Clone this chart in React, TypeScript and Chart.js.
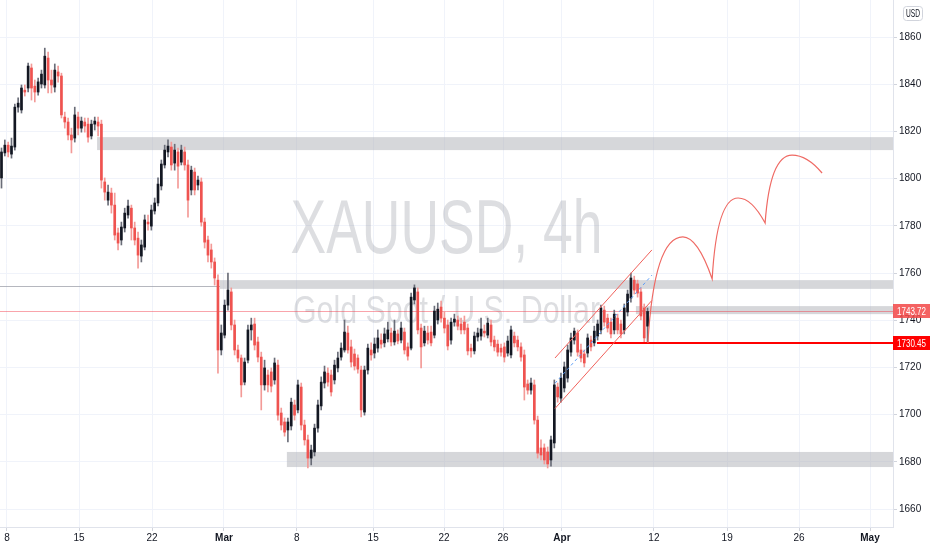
import React, { useEffect, useRef } from 'react';
import { Chart, registerables } from 'chart.js';

Chart.register(...registerables);

// ---- candle data (4h XAUUSD) ----
const opens = [
  1800.3, 1810.9, 1814.2, 1810.4, 1813.4, 1830.3, 1829.1, 1837.5, 1838.4, 1846.9,
  1839.2, 1836.7, 1840.1, 1839.7, 1851.1, 1841.8, 1838.8, 1845.2, 1843.5, 1826.1,
  1824.0, 1818.5, 1817.2, 1826.1, 1821.4, 1824.0, 1823.1, 1818.1, 1823.1, 1824.0,
  1823.1, 1798.6, 1790.9, 1793.9, 1788.8, 1777.0, 1774.0, 1779.1, 1784.6, 1787.5,
  1779.1, 1774.8, 1767.2, 1771.0, 1781.6, 1779.9, 1786.3, 1789.7, 1796.9, 1805.8,
  1811.3, 1813.4, 1806.6, 1811.3, 1807.0, 1811.3, 1805.8, 1795.2, 1802.8, 1797.3,
  1798.6, 1781.6, 1774.0, 1769.8, 1764.7, 1757.0, 1727.4, 1733.7, 1746.4, 1752.0,
  1738.0, 1727.4, 1724.0, 1713.8, 1723.1, 1735.9, 1738.4, 1730.8, 1724.4, 1712.6,
  1716.8, 1718.1, 1714.7, 1721.0, 1700.7, 1696.9, 1693.5, 1695.2, 1704.1, 1702.0,
  1711.7, 1695.6, 1689.3, 1681.6, 1684.2, 1694.3, 1703.7, 1713.4, 1717.6, 1716.8,
  1714.7, 1719.8, 1724.4, 1727.4, 1734.6, 1728.7, 1725.7, 1724.0, 1718.9, 1701.1,
  1718.9, 1727.4, 1726.1, 1728.2, 1731.6, 1730.4, 1732.1, 1734.6, 1730.8, 1734.2,
  1731.6, 1735.0, 1728.7, 1728.2, 1748.6, 1752.0, 1736.7, 1730.4, 1734.6, 1735.0,
  1733.7, 1740.1, 1745.6, 1740.9, 1738.0, 1731.6, 1739.2, 1740.1, 1738.4, 1739.2,
  1736.7, 1728.2, 1727.0, 1732.9, 1733.3, 1735.4, 1733.7, 1738.0, 1731.6, 1729.9,
  1728.2, 1728.7, 1726.1, 1725.3, 1733.3, 1731.6, 1728.7, 1725.3, 1713.0, 1710.4,
  1712.6, 1697.7, 1685.9, 1685.9, 1684.2, 1680.8, 1688.0, 1711.7, 1707.0, 1711.3,
  1715.5, 1726.5, 1731.6, 1734.6, 1727.4, 1725.7, 1726.1, 1731.6, 1730.4, 1733.3,
  1735.9, 1744.3, 1740.9, 1739.2, 1735.9, 1740.9, 1738.4, 1735.9, 1743.5, 1749.4,
  1757.0, 1755.4, 1752.0, 1745.2, 1737.5,
];
const highs = [
  1813.0, 1816.4, 1815.5, 1817.2, 1831.6, 1834.2, 1839.7, 1839.7, 1849.0, 1848.6,
  1841.8, 1842.6, 1846.0, 1855.3, 1853.6, 1846.0, 1848.6, 1847.7, 1844.7, 1828.2,
  1825.7, 1821.4, 1830.3, 1828.2, 1826.1, 1825.7, 1825.7, 1824.8, 1826.1, 1826.1,
  1824.8, 1800.3, 1797.3, 1796.0, 1793.9, 1779.1, 1781.6, 1787.5, 1790.9, 1788.8,
  1781.6, 1777.4, 1774.0, 1784.6, 1784.6, 1788.8, 1791.8, 1800.3, 1807.9, 1814.2,
  1816.4, 1815.5, 1814.6, 1813.0, 1814.2, 1813.4, 1807.9, 1805.3, 1804.5, 1801.1,
  1800.3, 1783.3, 1775.7, 1772.3, 1766.4, 1759.2, 1738.0, 1748.6, 1760.0, 1753.7,
  1740.1, 1729.5, 1725.3, 1724.0, 1738.0, 1740.9, 1740.9, 1732.9, 1726.5, 1723.1,
  1718.9, 1719.8, 1724.0, 1723.1, 1702.8, 1698.6, 1698.6, 1707.0, 1706.2, 1714.7,
  1713.4, 1697.7, 1691.4, 1687.1, 1696.0, 1706.2, 1716.0, 1720.6, 1719.8, 1718.9,
  1723.1, 1726.5, 1730.4, 1740.1, 1737.5, 1731.6, 1727.8, 1725.3, 1720.6, 1720.6,
  1729.9, 1730.4, 1732.5, 1735.9, 1734.2, 1736.7, 1739.2, 1736.7, 1740.1, 1735.9,
  1739.2, 1736.7, 1730.4, 1751.5, 1755.0, 1753.7, 1738.4, 1737.5, 1737.5, 1737.5,
  1746.0, 1747.3, 1748.1, 1743.5, 1740.1, 1740.9, 1742.6, 1741.8, 1740.9, 1741.8,
  1738.4, 1729.9, 1735.0, 1736.7, 1740.9, 1738.0, 1740.9, 1740.1, 1733.3, 1731.6,
  1729.9, 1730.4, 1733.3, 1737.5, 1735.0, 1733.3, 1730.4, 1727.4, 1714.7, 1715.5,
  1714.7, 1699.4, 1689.3, 1687.6, 1686.3, 1690.9, 1714.7, 1713.4, 1717.6, 1722.3,
  1729.5, 1734.6, 1736.7, 1735.9, 1729.9, 1727.4, 1734.2, 1733.3, 1737.5, 1740.1,
  1746.4, 1746.0, 1742.6, 1740.9, 1744.3, 1742.6, 1740.1, 1746.9, 1752.8, 1760.0,
  1758.7, 1757.0, 1753.7, 1746.9, 1745.2,
];
const lows = [
  1796.0, 1809.6, 1809.2, 1808.7, 1812.1, 1828.2, 1827.8, 1835.0, 1836.7, 1833.3,
  1832.5, 1835.4, 1838.4, 1838.4, 1836.3, 1836.3, 1836.7, 1840.9, 1825.7, 1821.4,
  1816.4, 1810.9, 1815.5, 1818.5, 1819.7, 1819.7, 1815.5, 1816.8, 1820.6, 1818.1,
  1796.0, 1790.9, 1788.8, 1785.4, 1774.0, 1769.8, 1771.9, 1777.4, 1783.3, 1774.0,
  1771.9, 1762.1, 1764.7, 1769.8, 1778.2, 1778.2, 1785.0, 1788.4, 1795.2, 1804.5,
  1809.2, 1803.6, 1803.6, 1796.0, 1805.8, 1803.6, 1783.7, 1793.1, 1793.1, 1795.2,
  1779.9, 1770.6, 1764.7, 1762.1, 1754.9, 1717.6, 1725.3, 1732.5, 1744.3, 1735.9,
  1725.3, 1722.3, 1707.5, 1712.6, 1721.9, 1731.6, 1727.4, 1722.3, 1702.0, 1710.4,
  1709.6, 1709.6, 1712.9, 1697.7, 1693.5, 1690.9, 1688.4, 1693.5, 1697.7, 1700.7,
  1693.5, 1687.1, 1677.4, 1678.7, 1682.5, 1692.6, 1702.0, 1711.3, 1712.1, 1707.9,
  1713.0, 1718.1, 1723.1, 1726.5, 1726.1, 1720.2, 1718.9, 1717.6, 1699.0, 1699.8,
  1717.2, 1723.1, 1724.0, 1726.5, 1728.2, 1728.7, 1730.8, 1729.1, 1729.5, 1730.0,
  1730.4, 1725.7, 1723.1, 1727.4, 1746.9, 1734.2, 1719.8, 1729.1, 1729.9, 1729.1,
  1732.5, 1738.4, 1739.2, 1734.6, 1727.4, 1729.9, 1737.5, 1735.9, 1734.2, 1734.2,
  1725.3, 1724.4, 1725.7, 1731.2, 1731.6, 1732.9, 1732.5, 1729.1, 1727.0, 1724.8,
  1724.8, 1722.3, 1724.8, 1724.0, 1728.7, 1727.0, 1722.7, 1706.2, 1708.7, 1708.7,
  1696.0, 1681.6, 1680.8, 1679.1, 1677.4, 1678.2, 1685.9, 1705.3, 1705.3, 1709.6,
  1713.8, 1724.8, 1729.9, 1724.8, 1722.3, 1720.2, 1724.4, 1727.0, 1729.1, 1731.6,
  1734.2, 1737.5, 1735.0, 1732.5, 1734.2, 1734.2, 1732.5, 1734.2, 1741.8, 1747.7,
  1751.1, 1749.8, 1740.1, 1730.4, 1730.4,
];
const closes = [
  1811.3, 1814.2, 1811.3, 1813.8, 1830.3, 1832.0, 1838.4, 1836.7, 1847.7, 1838.4,
  1836.7, 1841.0, 1844.3, 1851.9, 1841.8, 1839.7, 1846.0, 1843.5, 1827.0, 1824.0,
  1818.5, 1816.4, 1827.0, 1821.4, 1824.4, 1822.3, 1817.6, 1823.1, 1824.4, 1822.3,
  1799.4, 1794.3, 1794.3, 1788.8, 1776.1, 1772.7, 1779.5, 1785.4, 1788.4, 1779.1,
  1774.0, 1767.6, 1771.9, 1782.5, 1780.8, 1786.7, 1789.7, 1797.7, 1806.2, 1812.1,
  1813.8, 1805.8, 1812.1, 1805.3, 1812.1, 1805.8, 1790.9, 1803.6, 1795.2, 1799.4,
  1781.6, 1773.1, 1767.6, 1764.7, 1757.9, 1727.4, 1734.6, 1746.4, 1752.8, 1738.0,
  1727.4, 1724.0, 1712.6, 1722.3, 1735.9, 1738.0, 1729.5, 1724.4, 1712.6, 1719.8,
  1712.6, 1712.1, 1721.9, 1699.8, 1695.6, 1692.6, 1696.9, 1705.3, 1699.8, 1712.6,
  1695.6, 1689.3, 1681.6, 1685.0, 1694.3, 1704.1, 1713.8, 1718.1, 1713.8, 1709.6,
  1721.0, 1724.0, 1728.2, 1735.0, 1727.4, 1722.3, 1720.6, 1719.3, 1702.0, 1718.9,
  1728.2, 1725.3, 1729.9, 1732.5, 1729.9, 1734.2, 1735.9, 1730.8, 1735.4, 1731.2,
  1736.7, 1727.4, 1724.8, 1749.8, 1753.7, 1735.9, 1728.7, 1735.4, 1731.6, 1730.4,
  1743.9, 1744.7, 1740.9, 1736.7, 1729.1, 1739.2, 1740.5, 1737.5, 1735.9, 1735.9,
  1727.0, 1727.0, 1733.3, 1734.6, 1736.3, 1734.6, 1738.8, 1730.8, 1728.7, 1726.5,
  1726.5, 1724.4, 1731.2, 1735.9, 1730.4, 1728.7, 1724.4, 1711.7, 1710.4, 1713.4,
  1697.7, 1683.7, 1682.9, 1680.8, 1679.1, 1689.3, 1712.6, 1707.5, 1715.5, 1720.2,
  1727.4, 1732.5, 1735.4, 1726.5, 1724.0, 1721.9, 1732.5, 1728.7, 1735.4, 1738.4,
  1745.2, 1739.2, 1736.7, 1734.2, 1742.6, 1735.9, 1734.2, 1745.2, 1751.1, 1757.9,
  1752.8, 1751.5, 1741.8, 1732.5, 1743.72,
];

// ---- axes ----
const xTickIdx = [1.65, 23.3, 45.2, 66.8, 88.7, 111.6, 132.9, 150.6, 168.3, 195.9, 217.9, 239.5, 260.8];
const xTickLabels = ['8', '15', '22', 'Mar', '8', '15', '22', '26', 'Apr', '12', '19', '26', 'May'];
const monthLabels = ['Mar', 'Apr', 'May'];
const yTickValues = [1660, 1680, 1700, 1720, 1740, 1760, 1780, 1800, 1820, 1840, 1860];
const xRange = [-0.45, 267.7];
const yRange = [1652.4, 1875.7];

// ---- drawings ----
const zoneStartIdx = [28.7, 65.6, 190.5, 85.7];
const zoneLow = [1812.1, 1753.3, 1742.6, 1677.8];
const zoneHigh = [1817.6, 1757.0, 1746.0, 1684.2];
const lastPrice = 1743.72;
const supportPrice = 1730.45;
const supportStartIdx = 178.8;
const oldLevelPrice = 1754.5;
const oldLevelEndIdx = 65.6;
const channelIdx = [166.2, 195.3];
const channelUpper = [1724.0, 1769.8];
const channelLower = [1702.6, 1748.4];
const channelMid = [1713.3, 1759.1];
const projIdx = [194.1, 204.6, 213.4, 221.2, 229.3, 237.4, 246.4];
const projPrice = [1730.4, 1775.3, 1757.5, 1791.8, 1781.2, 1810.0, 1802.4];
const symbolTitle = 'XAUUSD, 4h';
const symbolName = 'Gold Spot / U.S. Dollar';
const currency = 'USD';

const AXIS_FONT = '"Liberation Sans", Arial, sans-serif';

function fitText(ctx: any, text: string, cx: number, baseY: number, size: number, width: number, align = 'center') {
  ctx.save();
  ctx.font = `${size}px "Liberation Sans", Arial, sans-serif`;
  const w = ctx.measureText(text).width;
  ctx.translate(cx, baseY);
  ctx.scale(Math.min(width / w, 4), 1);
  ctx.textAlign = align;
  ctx.textBaseline = 'alphabetic';
  ctx.fillText(text, 0, 0);
  ctx.restore();
}

const overlay = {
  id: 'overlay',
  beforeDatasetsDraw(chart: any) {
    const { ctx, chartArea: a, scales } = chart;
    const x = scales.x, y = scales.y;
    ctx.save();
    ctx.beginPath();
    ctx.rect(a.left, a.top, a.right - a.left, a.bottom - a.top);
    ctx.clip();
    // watermark
    const cx = (a.left + a.right) / 2;
    const cy = (a.top + a.bottom) / 2;
    ctx.fillStyle = 'rgba(120,123,134,0.25)';
    fitText(ctx, symbolTitle, cx, cy - 10.5, 76, 312);
    fitText(ctx, symbolName, cx, cy + 59.5, 39, 307);
    // zones
    ctx.fillStyle = 'rgba(176,178,184,0.52)';
    for (let i = 0; i < zoneStartIdx.length; i++) {
      const x0 = x.getPixelForValue(zoneStartIdx[i]);
      const yTop = y.getPixelForValue(zoneHigh[i]);
      const yBot = y.getPixelForValue(zoneLow[i]);
      ctx.fillRect(x0, yTop, a.right - x0, yBot - yTop);
    }
    // old level line
    ctx.strokeStyle = 'rgba(150,153,162,0.7)';
    ctx.lineWidth = 1;
    ctx.beginPath();
    const yl = Math.round(y.getPixelForValue(oldLevelPrice)) + 0.5;
    ctx.moveTo(a.left, yl);
    ctx.lineTo(x.getPixelForValue(oldLevelEndIdx), yl);
    ctx.stroke();
    // last price line
    ctx.strokeStyle = 'rgba(242,54,69,0.45)';
    ctx.beginPath();
    const yp = Math.round(y.getPixelForValue(lastPrice)) + 0.5;
    ctx.moveTo(a.left, yp);
    ctx.lineTo(a.right, yp);
    ctx.stroke();
    ctx.restore();
  },
  afterDatasetsDraw(chart: any) {
    const { ctx, chartArea: a, scales } = chart;
    const x = scales.x, y = scales.y;
    const px = (i: number) => x.getPixelForValue(i);
    const py = (p: number) => y.getPixelForValue(p);
    ctx.save();
    ctx.beginPath();
    ctx.rect(a.left, a.top, a.right - a.left, a.bottom - a.top);
    ctx.clip();
    // support ray
    ctx.strokeStyle = '#ff0000';
    ctx.lineWidth = 2;
    ctx.beginPath();
    const ys = Math.round(py(supportPrice));
    ctx.moveTo(px(supportStartIdx), ys);
    ctx.lineTo(a.right, ys);
    ctx.stroke();
    // channel
    ctx.strokeStyle = '#f0605a';
    ctx.lineWidth = 1;
    [channelUpper, channelLower].forEach((ln) => {
      ctx.beginPath();
      ctx.moveTo(px(channelIdx[0]), py(ln[0]));
      ctx.lineTo(px(channelIdx[1]), py(ln[1]));
      ctx.stroke();
    });
    ctx.strokeStyle = '#5b9cf6';
    ctx.setLineDash([3, 3]);
    ctx.beginPath();
    ctx.moveTo(px(channelIdx[0]), py(channelMid[0]));
    ctx.lineTo(px(channelIdx[1]), py(channelMid[1]));
    ctx.stroke();
    ctx.setLineDash([]);
    // projection
    ctx.strokeStyle = '#ef6a64';
    ctx.lineWidth = 1.2;
    ctx.beginPath();
    ctx.moveTo(px(projIdx[0]), py(projPrice[0]));
    for (let k = 0; k + 2 < projIdx.length; k += 2) {
      const sx = px(projIdx[k]);
      const pkx = px(projIdx[k + 1]), pky = py(projPrice[k + 1]);
      const ex = px(projIdx[k + 2]), ey = py(projPrice[k + 2]);
      ctx.quadraticCurveTo(sx + 0.18 * (pkx - sx), pky, pkx, pky);
      ctx.quadraticCurveTo(pkx + 0.5 * (ex - pkx), pky, ex, ey);
    }
    ctx.stroke();
    ctx.restore();
  },
  afterDraw(chart: any) {
    const { ctx, scales } = chart;
    const y = scales.y;
    ctx.save();
    const boxL = y.left;
    const boxW = 37;
    const label = (price: number, color: string, text: string) => {
      const yc = Math.round(y.getPixelForValue(price));
      ctx.fillStyle = color;
      ctx.fillRect(boxL, yc - 7, boxW, 14);
      ctx.fillStyle = '#ffffff';
      fitText(ctx, text, boxL + 4, yc + 4, 11, 29, 'left');
    };
    label(lastPrice, 'rgba(242,70,70,0.85)', lastPrice.toFixed(2));
    label(supportPrice, '#ff0000', supportPrice.toFixed(2));
    // currency badge
    const bx = boxL + 10.5, by = 6.5, bw = 19, bh = 14;
    ctx.strokeStyle = '#d1d4dc';
    ctx.lineWidth = 1;
    ctx.beginPath();
    if (ctx.roundRect) ctx.roundRect(bx, by, bw, bh, 3); else ctx.rect(bx, by, bw, bh);
    ctx.stroke();
    ctx.fillStyle = '#131722';
    fitText(ctx, currency, bx + bw / 2, by + bh / 2 + 3.5, 10, 14);
    ctx.restore();
  },
};

export default function App() {
  const ref = useRef<HTMLCanvasElement | null>(null);
  useEffect(() => {
    document.body.style.margin = '0';
    const canvas = ref.current;
    if (!canvas) return;
    const idx = opens.map((_, i) => i);
    const bull = idx.map((i) => closes[i] >= opens[i]);
    const chart = new Chart(canvas, {
      type: 'bar',
      data: {
        datasets: [
          {
            label: 'body',
            data: idx.map((i) => ({ x: i, y: [opens[i], closes[i]] })),
            backgroundColor: bull.map((b) => (b ? '#131722' : '#ef5350')),
            borderWidth: 0,
            barThickness: 2,
            minBarLength: 1,
            grouped: false,
            order: 0,
          } as any,
          {
            label: 'wick',
            data: idx.map((i) => ({ x: i, y: [lows[i], highs[i]] })),
            backgroundColor: bull.map((b) => (b ? '#6a6d78' : '#f39a97')),
            borderWidth: 0,
            barThickness: 1,
            grouped: false,
            order: 1,
          } as any,
        ],
      },
      options: {
        animation: false,
        responsive: false,
        devicePixelRatio: 1,
        events: [],
        layout: { padding: 0 },
        plugins: { legend: { display: false }, tooltip: { enabled: false } },
        scales: {
          x: {
            type: 'linear',
            min: xRange[0],
            max: xRange[1],
            offset: false,
            afterBuildTicks: (s: any) => {
              s.ticks = xTickIdx.map((v) => ({ value: v }));
            },
            afterFit: (s: any) => {
              s.height = 23;
              s.paddingLeft = 0;
              s.paddingRight = 0;
            },
            grid: { color: '#f0f3fa', offset: false, tickLength: 4, tickColor: '#d1d4dc' },
            border: { display: true, color: '#e0e3eb' },
            ticks: {
              autoSkip: false,
              maxRotation: 0,
              padding: 1,
              color: '#131722',
              font: (c: any) => ({
                family: AXIS_FONT,
                size: 10,
                weight: monthLabels.includes(xTickLabels[c.index]) ? 'bold condensed' : 'condensed',
              }),
              callback: (_v: any, i: number) => xTickLabels[i],
            },
          },
          y: {
            type: 'linear',
            position: 'right',
            min: yRange[0],
            max: yRange[1],
            afterBuildTicks: (s: any) => {
              s.ticks = yTickValues.map((v) => ({ value: v }));
            },
            afterFit: (s: any) => {
              s.width = 39;
              s.paddingTop = 0;
              s.paddingBottom = 0;
            },
            grid: { color: '#f0f3fa', tickLength: 4, tickColor: '#d1d4dc' },
            border: { display: true, color: '#e0e3eb' },
            ticks: {
              padding: 2,
              color: '#131722',
              font: { family: AXIS_FONT, size: 10, weight: 'condensed' },
              callback: (v: any) => String(v),
            },
          },
        },
      } as any,
      plugins: [overlay],
    });
    return () => chart.destroy();
  }, []);
  return (
    <div style={{ width: 932, height: 550, background: '#ffffff' }}>
      <canvas ref={ref} width={932} height={550} style={{ display: 'block' }} />
    </div>
  );
}
